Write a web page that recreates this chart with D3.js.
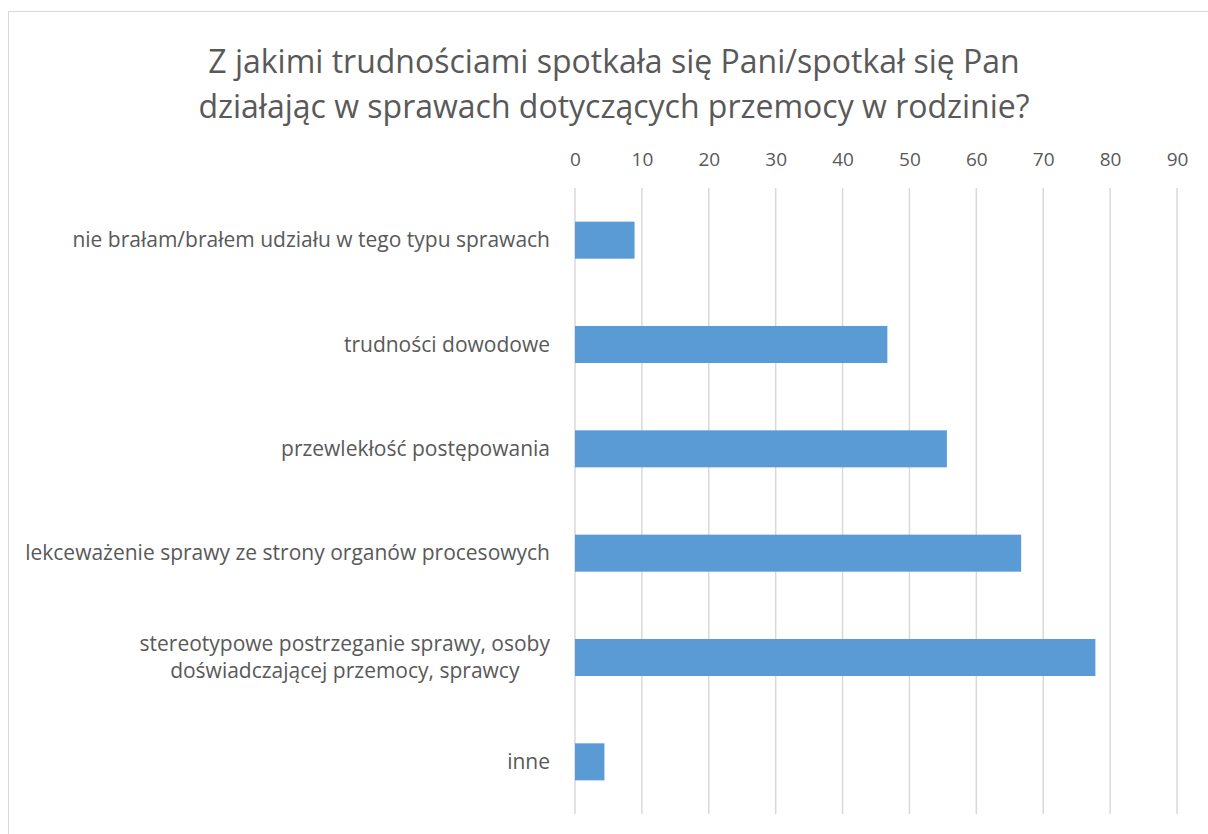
<!DOCTYPE html>
<html>
<head>
<meta charset="utf-8">
<script src="https://cdn.jsdelivr.net/npm/d3@7"></script>
<style>
  body { margin: 0; background: #fff; }
  text { font-family: 'Open Sans', sans-serif; fill: #595959; }
</style>
</head>
<body>
<svg id="chart" width="1208" height="834"></svg>
<script>
var titleLines = [
  "Z jakimi trudnościami spotkała się Pani/spotkał się Pan",
  "działając w sprawach dotyczących przemocy w rodzinie?"
];

var categories = [
  ["nie brałam/brałem udziału w tego typu sprawach"],
  ["trudności dowodowe"],
  ["przewlekłość postępowania"],
  ["lekceważenie sprawy ze strony organów procesowych"],
  ["stereotypowe postrzeganie sprawy, osoby", "doświadczającej przemocy, sprawcy"],
  ["inne"]
];

var values = [8.9, 46.7, 55.6, 66.7, 77.8, 4.4];

var tickValues = [0, 10, 20, 30, 40, 50, 60, 70, 80, 90];

var svg = d3.select('#chart');

// chart frame
svg.append('rect')
  .attr('x', 8.5)
  .attr('y', 11.5)
  .attr('width', 1220)
  .attr('height', 840)
  .style('fill', 'none')
  .style('stroke', '#d9d9d9')
  .style('stroke-width', 1);

// title
svg.append('g').selectAll('text')
  .data(titleLines)
  .enter().append('text')
  .attr('x', 614)
  .attr('y', function (d, i) { return 73 + i * 45; })
  .attr('text-anchor', 'middle')
  .style('font-size', '32px')
  .text(function (d) { return d; });

var x = d3.scaleLinear().domain([0, 90]).range([575, 1177]);
var y = d3.scaleBand()
  .domain(d3.range(categories.length))
  .range([188, 814])
  .paddingInner(0.645)
  .paddingOuter(0.3225);

// gridlines
svg.append('g').selectAll('line')
  .data(tickValues)
  .enter().append('line')
  .attr('x1', function (d) { return x(d); })
  .attr('x2', function (d) { return x(d); })
  .attr('y1', 188)
  .attr('y2', 814)
  .style('stroke', '#d9d9d9')
  .style('stroke-width', 1.5);

// top axis labels
var axis = d3.axisTop(x).tickValues(tickValues).tickSize(0).tickPadding(0);
var ax = svg.append('g').attr('transform', 'translate(0,166)').call(axis);
ax.select('.domain').remove();
ax.selectAll('text')
  .style('font-size', '19px')
  .style('font-family', "'Open Sans', sans-serif")
  .attr('fill', '#595959');

// bars
svg.append('g').selectAll('rect')
  .data(values)
  .enter().append('rect')
  .attr('x', x(0))
  .attr('y', function (d, i) { return y(i); })
  .attr('width', function (d) { return x(d) - x(0); })
  .attr('height', y.bandwidth())
  .style('fill', '#5b9bd5');

// category labels
var labels = svg.append('g').selectAll('text')
  .data(categories)
  .enter().append('text')
  .attr('y', function (d, i) { return y(i) + y.bandwidth() / 2; })
  .style('font-size', '21px');

labels.each(function (lines) {
  var t = d3.select(this);
  var lh = 27;
  var y0 = -((lines.length - 1) * lh) / 2;
  lines.forEach(function (l, j) {
    t.append('tspan').attr('dy', j === 0 ? (y0 + 7) : lh).text(l);
  });
  var w = 0;
  t.selectAll('tspan').each(function () {
    w = Math.max(w, this.getComputedTextLength());
  });
  var cx = 550 - w / 2;
  t.attr('text-anchor', 'middle');
  t.selectAll('tspan').attr('x', cx);
});
</script>
</body>
</html>
